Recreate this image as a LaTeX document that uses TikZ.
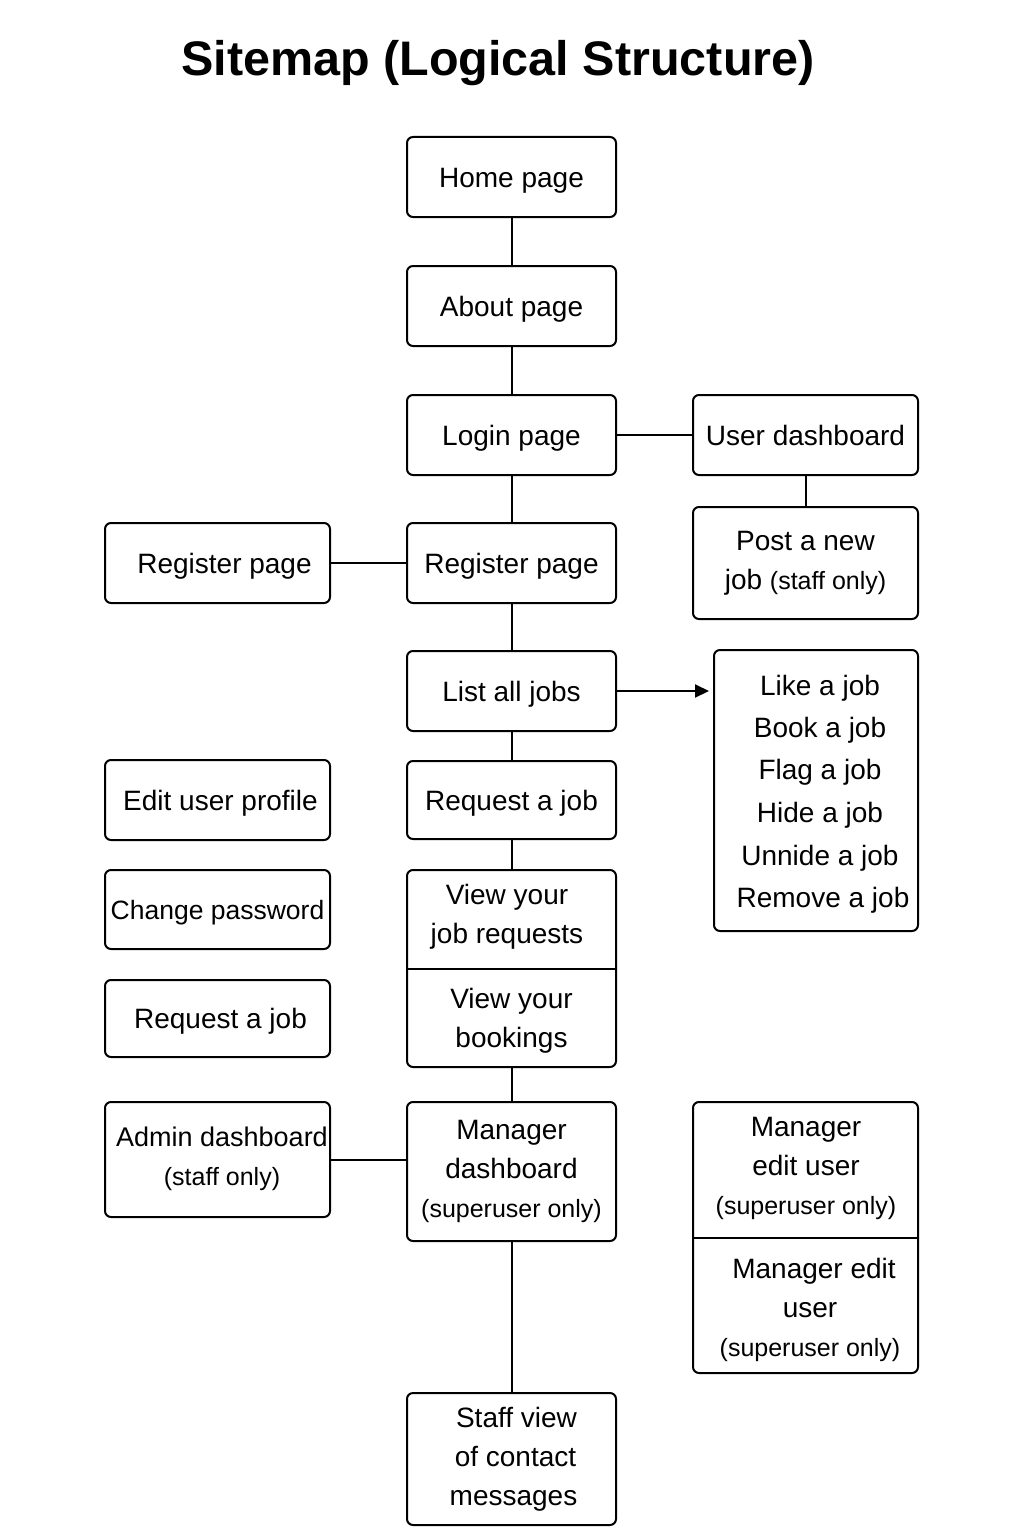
\documentclass[tikz,border=0pt]{standalone}
\usepackage{fontspec}
\setmainfont{Liberation Sans}
\usetikzlibrary{arrows.meta}
\begin{document}
\begin{tikzpicture}[x=1pt,y=-1pt,
  box/.style={draw, line width=2pt, rounded corners=6pt, align=center, inner sep=0pt,
    font=\fontsize{28}{39}\selectfont},
  one/.style={text height=26pt, text depth=6pt},
  txt/.style={align=center, inner sep=0pt, font=\fontsize{28}{39}\selectfont},
  link/.style={line width=2pt}]
\useasboundingbox (0,0) rectangle (1024,1536);
\fill[white] (0,0) rectangle (1024,1536);
\node[font=\bfseries\fontsize{48.5}{56}\selectfont] (title) at (498,63) {Sitemap (Logical Structure)};
% central column
\node[box, one, minimum width=209pt, minimum height=80pt] (home) at (511.5,177) {Home page};
\node[box, one, minimum width=209pt, minimum height=80pt] (about) at (511.5,306) {About page};
\node[box, one, minimum width=209pt, minimum height=80pt] (login) at (511.5,435) {Login page};
\node[box, one, minimum width=209pt, minimum height=80pt] (reg) at (511.5,563) {Register page};
\node[box, one, minimum width=209pt, minimum height=80pt] (list) at (511.5,691) {List all jobs};
\node[box, one, minimum width=209pt, minimum height=78pt] (req) at (511.5,800) {Request a job};
\node[box, minimum width=209pt, minimum height=197pt] (view) at (511.5,968.5) {};
\node[txt] (viewreq) at (507,917) {View your\\job requests};
\node[txt] (viewbook) at (511.5,1021) {View your\\bookings};
\node[box, minimum width=209pt, minimum height=139pt] (mgr) at (511.5,1171.5) {Manager\\dashboard\\{\fontsize{25}{39}\selectfont(superuser only)}};
\node[box, minimum width=209pt, minimum height=132pt] (staff) at (511.5,1459) {\hspace{10pt}Staff view\\\hspace{8pt}of contact\\\hspace{4pt}messages};
% right column
\node[box, one, minimum width=225pt, minimum height=80pt] (udash) at (805.5,435) {User dashboard};
\node[box, minimum width=225pt, minimum height=112pt] (post) at (805.5,563) {Post a new\\job {\fontsize{25}{39}\selectfont(staff only)}};
\node[box, minimum width=204pt, minimum height=281pt] (acts) at (816,790.5) {};
\node[txt, font=\fontsize{28}{42.5}\selectfont] (actstxt) at (820,794) {Like a job\\Book a job\\Flag a job\\Hide a job\\Unnide a job\\\hspace{6pt}Remove a job};
\node[box, minimum width=225pt, minimum height=271pt] (medit) at (805.5,1237.5) {};
\node[txt] (medit1) at (806,1168) {Manager\\edit user\\{\fontsize{25}{39}\selectfont(superuser only)}};
\node[txt] (medit2) at (810,1310) {\hspace{8pt}Manager edit\\user\\{\fontsize{25}{39}\selectfont(superuser only)}};
% left column
\node[box, one, minimum width=225pt, minimum height=80pt] (lreg) at (217.5,563) {\hspace{14pt}Register page};
\node[box, one, minimum width=225pt, minimum height=80pt] (edit) at (217.5,800) {\hspace{6pt}Edit user profile};
\node[box, one, minimum width=225pt, minimum height=79pt] (pwd) at (217.5,909.5) {{\fontsize{26.5}{39}\selectfont Change password}};
\node[box, one, minimum width=225pt, minimum height=77pt] (lreq) at (217.5,1018.5) {\hspace{6pt}Request a job};
\node[box, minimum width=225pt, minimum height=115pt] (admin) at (217.5,1159.5) {};
\node[txt] (admintxt) at (222,1159) {{\fontsize{27}{39}\selectfont Admin dashboard}\\{\fontsize{25}{39}\selectfont(staff only)}};
% dividers
\draw[link] (view.west |- 0,969) -- (view.east |- 0,969);
\draw[link] (medit.west |- 0,1238) -- (medit.east |- 0,1238);
% connectors
\draw[link] (home) -- (about);
\draw[link] (about) -- (login);
\draw[link] (login) -- (reg);
\draw[link] (reg) -- (list);
\draw[link] (list) -- (req);
\draw[link] (req) -- (view);
\draw[link] (view) -- (mgr);
\draw[link] (mgr) -- (staff);
\draw[link] (login) -- (udash);
\draw[link] (udash) -- (post);
\draw[link] (lreg) -- (reg);
\draw[link] (admin) -- (mgr.west |- admin);
\draw[link, -{Triangle[length=14pt,width=13pt]}] (list.east) -- ([xshift=-4pt]acts.west |- list.east);
\end{tikzpicture}
\end{document}
